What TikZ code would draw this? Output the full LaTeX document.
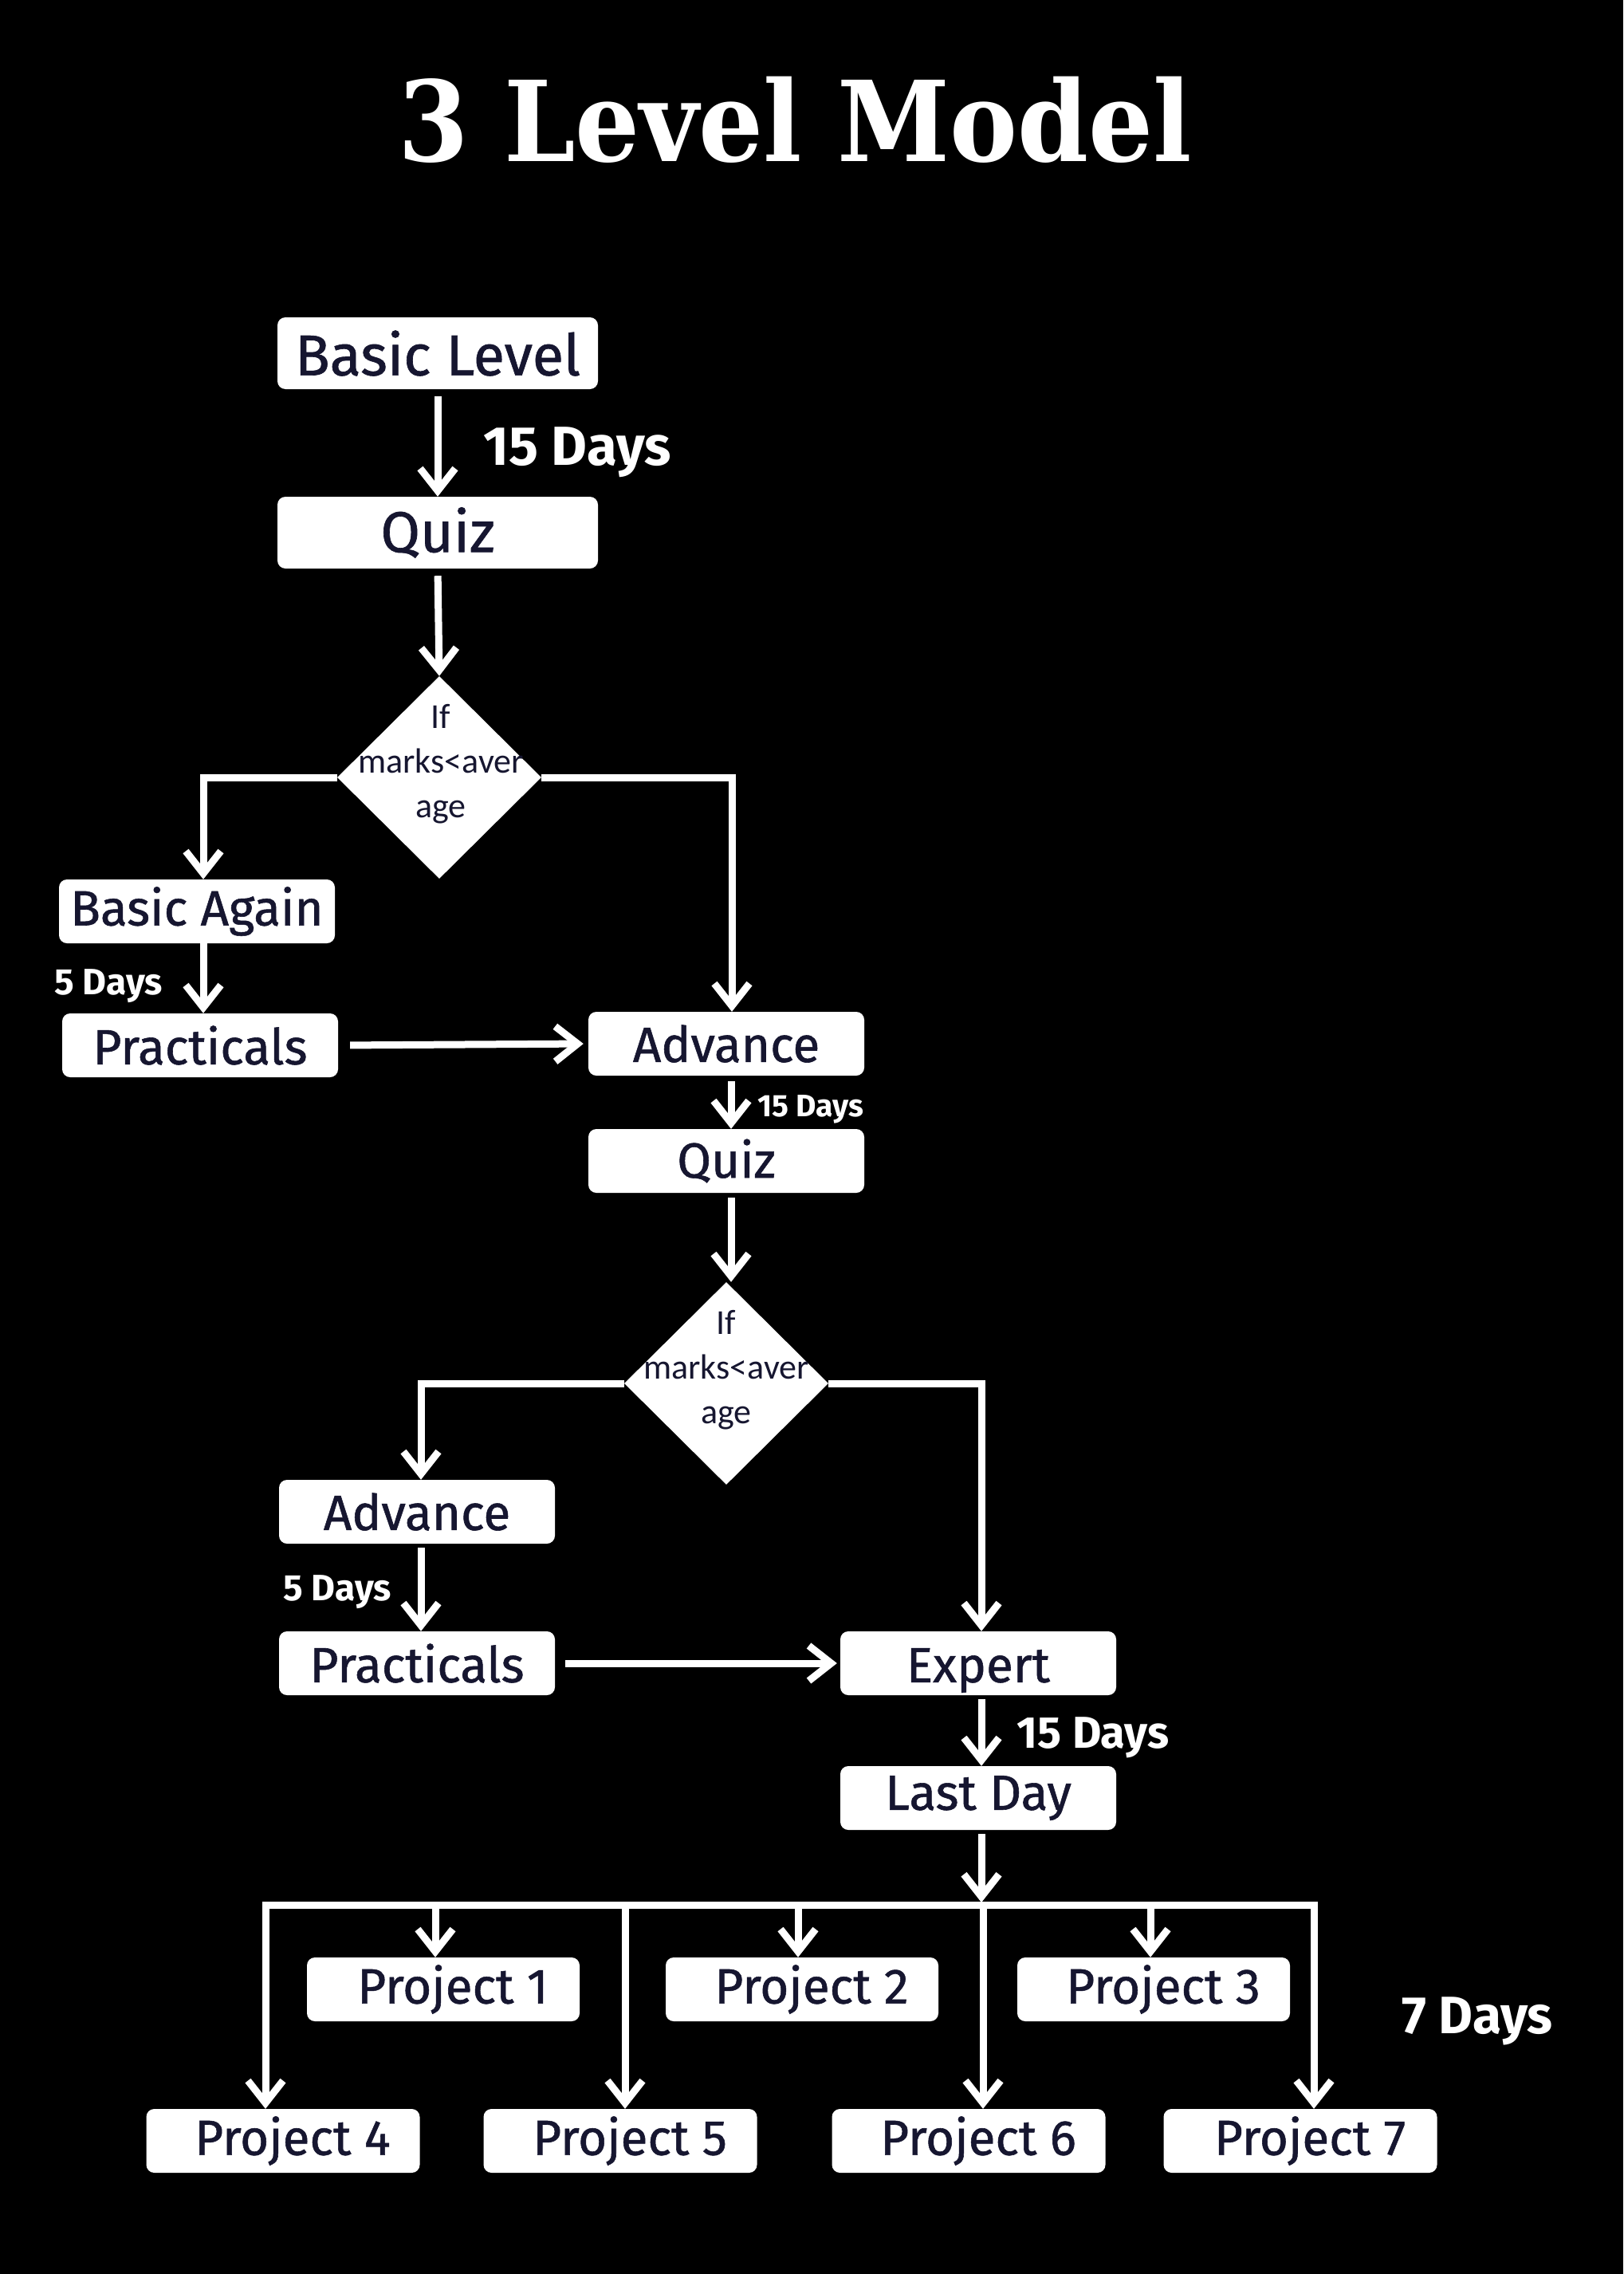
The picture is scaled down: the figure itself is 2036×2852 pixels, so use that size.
\documentclass[tikz,border=0pt]{standalone}
\usepackage{fontspec}
\setmainfont{Fira Sans}
\newfontfamily\boxfont{Fira Sans}[FakeBold=0.9]
\newfontfamily\titlefont{DejaVu Serif}
\newfontfamily\diafont{Carlito}
\usetikzlibrary{arrows.meta,shapes.geometric}
\definecolor{ink}{RGB}{22,22,48}
\begin{document}
\begin{tikzpicture}[x=1pt,y=-1pt,
  box/.style={fill=white, rounded corners=10pt, minimum width=346pt, minimum height=80pt, inner sep=0pt, text=ink, font=\boxfont\fontsize{62}{70}\selectfont},
  bigbox/.style={box, minimum width=402pt, minimum height=90pt, font=\boxfont\fontsize{72}{80}\selectfont},
  dia/.style={diamond, fill=white, minimum width=256pt, minimum height=254pt, inner sep=0pt},
  diatext/.style={align=center, text=ink, inner sep=0pt, font=\diafont\fontsize{44}{56}\selectfont},
  conn/.style={draw=white, line width=9pt},
  arr/.style={conn, -{Straight Barb[length=28pt,width=44pt]}},
  days/.style={text=white, font=\bfseries\fontsize{#1}{#1}\selectfont, inner sep=0pt, anchor=base}
]
\fill[black] (0,0) rectangle (2036,2852);

% title
\node[anchor=base, text=white, inner sep=0pt, font=\titlefont\bfseries\fontsize{140}{140}\selectfont] (title) at (997,203) {\scalebox{0.91}[1]{3 Level Model}};

% basic level
\node[bigbox] (basic) at (549,443) {Basic Level};
\node[bigbox] (quiz1) at (549,668) {Quiz};
\node[days=69] (l1) at (724,583) {15 Days};
\draw[arr, shorten <=9pt] (basic.south) -- (quiz1.north);

\node[dia] (d1) at (551,975) {};
\node[diatext] (d1t) at (553,958) {If\\marks<aver\\age};
\draw[arr, shorten <=9pt] (quiz1.south) -- (d1.north);

\node[box] (ba) at (247,1143) {Basic Again};
\node[box] (pr1) at (251,1311) {Practicals};
\node[box] (adv1) at (911,1309) {Advance};
\draw[arr] (d1.west) -| ([xshift=8pt]ba.north);
\draw[arr] (d1.east) -| ([xshift=7pt]adv1.north);
\draw[arr] ([xshift=8pt]ba.south) -- ([xshift=4pt]pr1.north);
\node[days=46] (l2) at (136,1247) {5 Days};
\draw[arr, shorten <=15pt, shorten >=6pt] (pr1.east) -- (adv1.west);

% advance level
\node[box] (quiz2) at (911,1456) {Quiz};
\draw[arr, shorten <=7pt] ([xshift=6pt]adv1.south) -- ([xshift=6pt]quiz2.north);
\node[days=39] (l3) at (1017,1400) {15 Days};

\node[dia] (d2) at (911,1735) {};
\node[diatext] (d2t) at (911,1718) {If\\marks<aver\\age};
\draw[arr, shorten <=6pt] ([xshift=6pt]quiz2.south) -- ([xshift=6pt]d2.north);

\node[box] (adv2) at (523,1896) {Advance};
\node[box] (pr2) at (523,2086) {Practicals};
\node[box, label={[text=ink, font=\boxfont\fontsize{62}{70}\selectfont, yshift=-9pt]center:Expert}] (ex) at (1227,2086) {};
\draw[arr] (d2.west) -| ([xshift=5pt]adv2.north);
\draw[arr] (d2.east) -| ([xshift=4pt]ex.north);
\draw[arr, shorten <=5pt] ([xshift=5pt]adv2.south) -- ([xshift=5pt]pr2.north);
\node[days=46] (l4) at (423,2007) {5 Days};
\draw[arr, shorten <=13pt, shorten >=4pt] (pr2.east) -- (ex.west);

% expert level
\node[box] (ld) at (1227,2255) {Last Day};
\draw[arr, shorten <=5pt] ([xshift=4pt]ex.south) -- ([xshift=4pt]ld.north);
\node[days=56] (l5) at (1371,2192) {15 Days};

% projects
\node[box, minimum width=342pt] (pj1) at (556,2495) {\hspace*{24pt}Project 1};
\node[box, minimum width=342pt] (pj2) at (1006,2495) {\hspace*{24pt}Project 2};
\node[box, minimum width=342pt] (pj3) at (1447,2495) {\hspace*{24pt}Project 3};
\node[box, minimum width=343pt] (pj4) at (355,2685) {\hspace*{24pt}Project 4};
\node[box, minimum width=343pt] (pj5) at (778,2685) {\hspace*{24pt}Project 5};
\node[box, minimum width=343pt] (pj6) at (1215,2685) {\hspace*{24pt}Project 6};
\node[box, minimum width=343pt] (pj7) at (1631,2685) {\hspace*{24pt}Project 7};
\node[days=66] (l6) at (1853,2550) {7 Days};

\coordinate (bj) at (1231,2386);
\coordinate (bL) at (333,2389);
\coordinate (bR) at (1648,2389);
\coordinate (b1) at (546,2389);
\coordinate (b2) at (1001,2389);
\coordinate (b3) at (1443,2389);
\coordinate (b5) at (784,2389);
\coordinate (b6) at (1233,2389);
\draw[conn, line cap=rect] (bL) -- (bR);
\draw[arr, shorten <=5pt] ([xshift=4pt]ld.south) -- (bj);
\draw[arr] (b1) -- (b1 |- pj1.north);
\draw[arr] (b2) -- (b2 |- pj2.north);
\draw[arr] (b3) -- (b3 |- pj3.north);
\draw[arr] (bL) -- (bL |- pj4.north);
\draw[arr] (b5) -- (b5 |- pj5.north);
\draw[arr] (b6) -- (b6 |- pj6.north);
\draw[arr] (bR) -- (bR |- pj7.north);
\end{tikzpicture}
\end{document}
